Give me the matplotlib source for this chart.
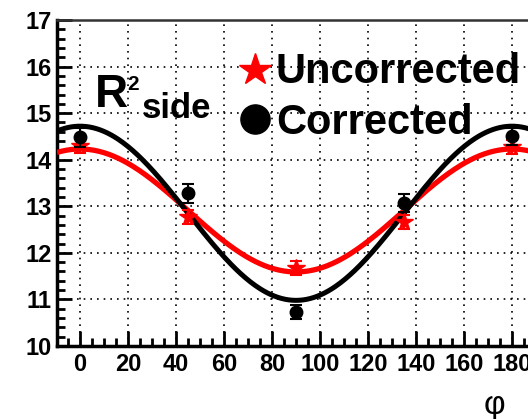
import numpy as np
import matplotlib
matplotlib.use("Agg")
import matplotlib.pyplot as plt
from matplotlib.ticker import MultipleLocator

# Data points
phi = [0, 45, 90, 135, 180]
corrected = [14.48, 13.28, 10.73, 13.07, 14.50]
corrected_err = [0.20, 0.20, 0.15, 0.20, 0.18]
uncorrected = [14.30, 12.78, 11.67, 12.66, 14.28]
uncorrected_err = [0.15, 0.15, 0.15, 0.15, 0.15]

# Fit parameters: R2 = a + b*cos(2 phi)
fit_corr = (12.85, 1.87)
fit_uncorr = (12.91, 1.32)

W, H = 528, 419
fig = plt.figure(figsize=(W / 100, H / 100), dpi=100)
plt.rcParams['font.family'] = ['Liberation Sans', 'DejaVu Sans']

x0, x1 = 57, 536
y0, y1 = 20, 346
ax = fig.add_axes([x0 / W, 1 - y1 / H, (x1 - x0) / W, (y1 - y0) / H])
ax.set_xlim(-9.6, 190)
ax.set_ylim(10, 17)

xf = np.linspace(-9.6, 190, 400)
ax.plot(xf, fit_uncorr[0] + fit_uncorr[1] * np.cos(np.radians(2 * xf)),
        color='red', lw=3.8, zorder=3, solid_capstyle='butt')
ax.plot(xf, fit_corr[0] + fit_corr[1] * np.cos(np.radians(2 * xf)),
        color='black', lw=3.6, zorder=4, solid_capstyle='butt')

ax.errorbar(phi, uncorrected, yerr=uncorrected_err, fmt='*', color='red',
            ms=13, capsize=4, elinewidth=1.5, capthick=1.5, zorder=5)
ax.errorbar(phi, corrected, yerr=corrected_err, fmt='o', color='black',
            ms=9, capsize=4, elinewidth=1.5, capthick=1.5, zorder=6)

ax.xaxis.set_major_locator(MultipleLocator(20))
ax.xaxis.set_minor_locator(MultipleLocator(5))
ax.yaxis.set_major_locator(MultipleLocator(1))
ax.yaxis.set_minor_locator(MultipleLocator(0.2))
ax.tick_params(which='both', direction='in', top=False, right=False,
               width=2.0, labelsize=17)
ax.tick_params(axis='y', which='major', length=11, pad=4)
ax.tick_params(axis='x', which='major', length=11, pad=5)
ax.tick_params(which='minor', length=6)
for lab in ax.get_xticklabels() + ax.get_yticklabels():
    lab.set_fontweight('bold')
ax.grid(True, which='major', color='black', linestyle=(0, (1, 3)), lw=1.2)

for s in ['left', 'bottom']:
    ax.spines[s].set_linewidth(2.5)
ax.spines['top'].set_linewidth(1.8)
ax.spines['top'].set_color('#333333')
ax.spines['right'].set_visible(False)

# Labels as figure text
fig.text(95 / W, 1 - 107 / H, 'R', fontsize=33, fontweight='bold', ha='left', va='baseline')
fig.text(127 / W, 1 - 90 / H, '2', fontsize=15, fontweight='bold', ha='left', va='baseline')
fig.text(142 / W, 1 - 118 / H, 'side', fontsize=25, fontweight='bold', ha='left', va='baseline')

fig.text(276 / W, 1 - 83 / H, 'Uncorrected', fontsize=30, fontweight='bold', ha='left', va='baseline')
fig.text(276 / W, 1 - 134 / H, 'Corrected', fontsize=30, fontweight='bold', ha='left', va='baseline')
fig.lines.append(plt.Line2D([255 / W], [1 - 70 / H], marker='*', color='red', ms=24,
                            transform=fig.transFigure))
fig.lines.append(plt.Line2D([254.5 / W], [1 - 119 / H], marker='o', color='black', ms=21,
                            transform=fig.transFigure))

fig.text(494 / W, 1 - 405 / H, 'φ', fontsize=24, ha='center', va='center')

fig.savefig('out.png', dpi=100)
